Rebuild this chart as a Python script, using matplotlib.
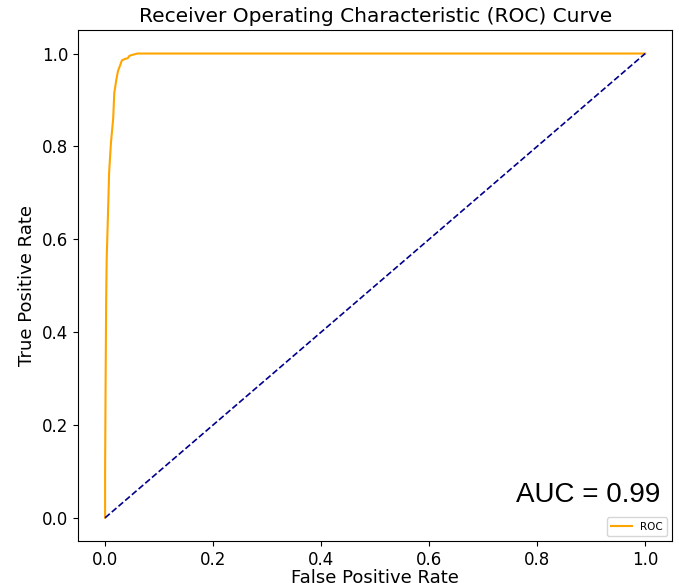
import matplotlib
matplotlib.use("Agg")
import matplotlib.pyplot as plt

# ROC curve points
fpr = [0.0, 0.0, 0.001, 0.002, 0.003, 0.005, 0.0075, 0.011, 0.015, 0.017,
       0.021, 0.024, 0.028, 0.031, 0.036, 0.042, 0.045, 0.050, 0.060, 1.0]
tpr = [0.0, 0.10, 0.30, 0.47, 0.56, 0.64, 0.745, 0.81, 0.86, 0.915,
       0.945, 0.963, 0.975, 0.985, 0.988, 0.990, 0.995, 0.997, 1.0, 1.0]
chance = [0.0, 1.0]
auc_text = "AUC = 0.99"

fig = plt.figure(figsize=(6.79, 5.83), dpi=100)
ax = fig.add_axes([0.115, 0.072, 0.875, 0.876])

ax.plot(fpr, tpr, color='orange', linewidth=1.5, label='ROC')
ax.plot(chance, chance, color='darkblue', linestyle='--', linewidth=1.2)

ax.set_xlabel('False Positive Rate', fontsize=13, labelpad=0)
ax.set_ylabel('True Positive Rate', fontsize=13)
ax.set_title('Receiver Operating Characteristic (ROC) Curve', fontsize=14.5)
ax.tick_params(labelsize=12)

ax.text(0.98, 0.09, auc_text, transform=ax.transAxes, ha='right', va='center',
        fontsize=20, family='Liberation Sans')
ax.legend(loc='lower right', fontsize=7.5)

fig.savefig('out.png', dpi=100)
